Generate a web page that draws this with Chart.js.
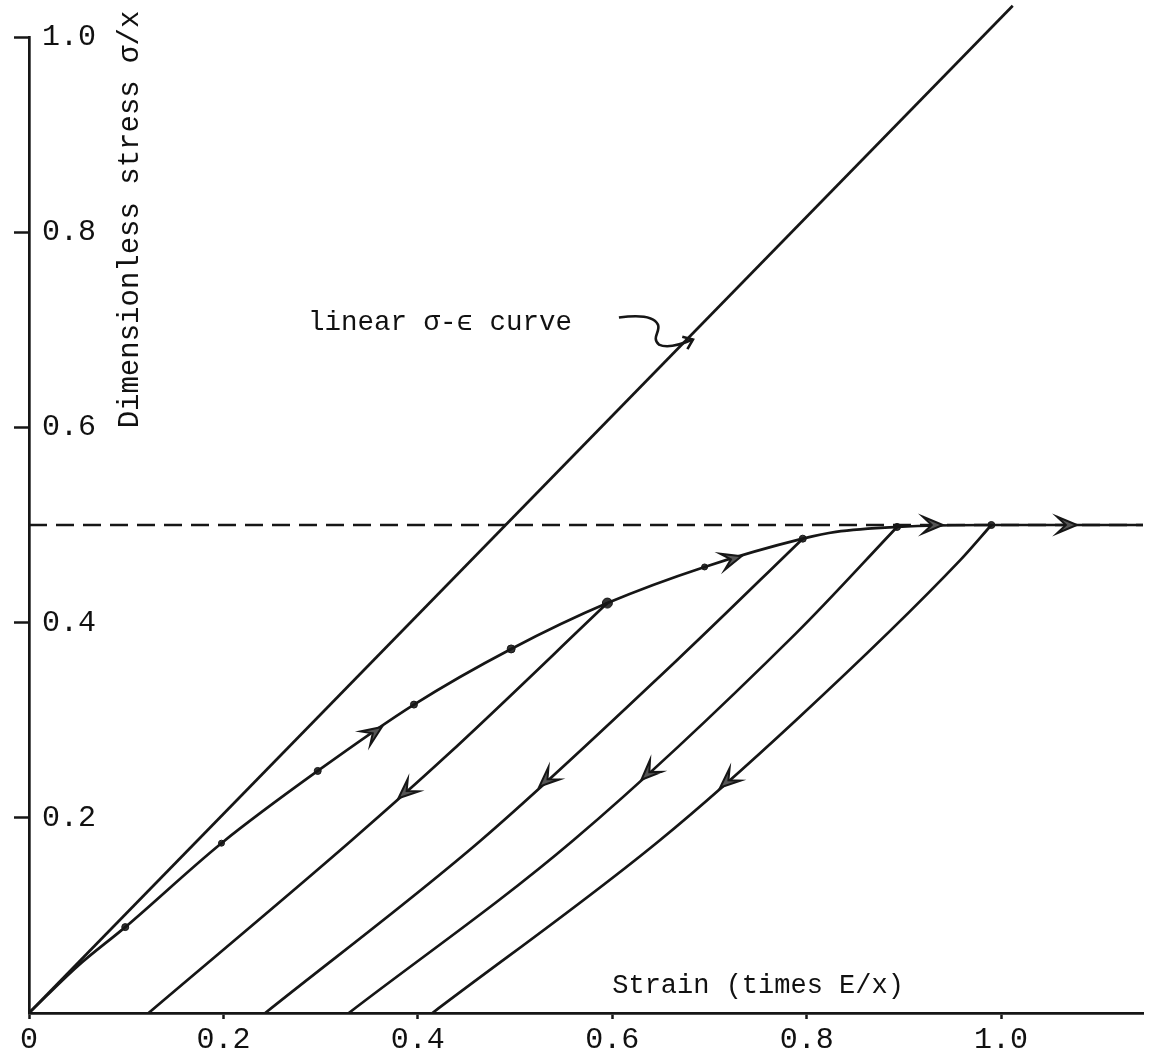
<!DOCTYPE html>
<html lang="en">
<head>
    <meta charset="UTF-8">
    <meta name="viewport" content="width=device-width, initial-scale=1.0">
    <title>Dimensionless stress-strain</title>
    <script src="https://cdn.jsdelivr.net/npm/chart.js"></script>
    <style>
        html, body { margin: 0; padding: 0; background: #fff; }
        #wrap { width: 1149px; height: 1057px; }
    </style>
</head>
<body>
    <div id="wrap"><canvas id="stressChart"></canvas></div>

    <script>
        // tick labels
        const xTicks = [0, 0.2, 0.4, 0.6, 0.8, 1.0];
        const yTicks = [0.2, 0.4, 0.6, 0.8, 1.0];

        // linear sigma-epsilon line
        const linearX = [0, 1.012];
        const linearY = [0, 1.032];

        // dashed limit at 0.5
        const limitX = [0, 1.146];
        const limitY = [0.5, 0.5];

        // loading curve
        const loadX = [0, 0.05, 0.099, 0.198, 0.297, 0.396, 0.496, 0.595, 0.695, 0.796, 0.83, 0.893, 0.99, 1.146];
        const loadY = [0, 0.048, 0.088, 0.174, 0.248, 0.316, 0.373, 0.420, 0.457, 0.486, 0.493, 0.498, 0.5, 0.5];

        // plotted points on the loading curve
        const dotX = [0.099, 0.198, 0.297, 0.396, 0.496, 0.595, 0.695, 0.796, 0.893, 0.99];
        const dotY = [0.088, 0.174, 0.248, 0.316, 0.373, 0.420, 0.457, 0.486, 0.498, 0.5];
        const dotSize = [3.5, 3, 3.5, 3.5, 4, 5, 3, 3.5, 3.5, 3.5];

        // unloading curves
        const unload1X = [0.123, 0.332, 0.43, 0.595];
        const unload1Y = [0, 0.177, 0.264, 0.420];
        const unload2X = [0.243, 0.465, 0.666, 0.796];
        const unload2Y = [0, 0.177, 0.361, 0.486];
        const unload3X = [0.329, 0.56, 0.789, 0.893];
        const unload3Y = [0, 0.177, 0.389, 0.498];
        const unload4X = [0.415, 0.649, 0.789, 0.958, 0.99];
        const unload4Y = [0, 0.177, 0.30, 0.464, 0.5];

        // arrowheads: tip point and a point behind it on the same curve
        const arrowTip  = [[0.363, 0.293], [0.733, 0.468], [0.94, 0.5], [1.078, 0.5],
                           [0.38, 0.220], [0.525, 0.232], [0.63, 0.239], [0.711, 0.231]];
        const arrowFrom = [[0.297, 0.248], [0.695, 0.457], [0.90, 0.5], [1.03, 0.5],
                           [0.43, 0.264], [0.60, 0.300], [0.72, 0.325], [0.79, 0.30]];

        // text placed in data units
        const curveNote = { text: 'linear \u03c3-\u03f5 curve', x: 0.287, y: 0.70, pointX: 0.683, pointY: 0.690 };
        const xTitle = { text: 'Strain (times E/x)', x: 0.6, y: 0.021 };
        const yTitle = { text: 'Dimensionless stress \u03c3/x', x: 0.104, y: 0.813 };

        const ink = '#161616';
        const mono = "'Liberation Mono', 'DejaVu Sans Mono', monospace";

        const pts = (xs, ys) => xs.map((x, i) => ({ x: x, y: ys[i] }));

        const lineSet = (xs, ys, extra) => Object.assign({
            data: pts(xs, ys),
            showLine: true,
            borderColor: ink,
            borderWidth: 2.7,
            pointRadius: 0,
            fill: false
        }, extra || {});

        const drawHead = (ctx, tx, ty, ang, len, spread) => {
            ctx.save();
            ctx.translate(tx, ty);
            ctx.rotate(ang);
            ctx.beginPath();
            ctx.moveTo(0, 0);
            ctx.lineTo(-len, -len * spread);
            ctx.lineTo(-len * 0.55, 0);
            ctx.lineTo(-len, len * spread);
            ctx.closePath();
            ctx.fillStyle = '#555';
            ctx.fill();
            ctx.lineWidth = 2;
            ctx.strokeStyle = ink;
            ctx.stroke();
            ctx.restore();
        };

        const decorPlugin = {
            id: 'decor',
            afterDatasetsDraw(chart) {
                const ctx = chart.ctx;
                const sx = chart.scales.x, sy = chart.scales.y;
                const px = v => sx.getPixelForValue(v);
                const py = v => sy.getPixelForValue(v);

                // arrowheads
                arrowTip.forEach((t, i) => {
                    const f = arrowFrom[i];
                    const ang = Math.atan2(py(t[1]) - py(f[1]), px(t[0]) - px(f[0]));
                    drawHead(ctx, px(t[0]), py(t[1]), ang, 20, 0.42);
                });

                ctx.save();
                ctx.fillStyle = '#111';
                ctx.textBaseline = 'alphabetic';

                // note with squiggly pointer
                ctx.font = '27.5px ' + mono;
                ctx.textAlign = 'left';
                ctx.fillText(curveNote.text, px(curveNote.x), py(curveNote.y));

                const ax = px(curveNote.pointX), ay = py(curveNote.pointY);
                ctx.beginPath();
                ctx.moveTo(ax - 74, ay - 22);
                ctx.bezierCurveTo(ax - 60, ay - 24, ax - 40, ay - 25, ax - 35, ay - 15);
                ctx.bezierCurveTo(ax - 32, ay - 8, ax - 42, ay - 2, ax - 34, ay + 5);
                ctx.bezierCurveTo(ax - 26, ay + 9, ax - 12, ay + 5, ax, ay);
                ctx.lineWidth = 2.6;
                ctx.strokeStyle = ink;
                ctx.stroke();
                const a = Math.atan2(-5, 12);
                ctx.beginPath();
                ctx.moveTo(ax - 11 * Math.cos(a - 0.65), ay - 11 * Math.sin(a - 0.65));
                ctx.lineTo(ax, ay);
                ctx.lineTo(ax - 11 * Math.cos(a + 0.65), ay - 11 * Math.sin(a + 0.65));
                ctx.stroke();

                // axis titles inside the frame
                ctx.font = '27px ' + mono;
                ctx.fillText(xTitle.text, px(xTitle.x), py(xTitle.y));

                ctx.translate(px(yTitle.x), py(yTitle.y));
                ctx.rotate(-Math.PI / 2);
                ctx.font = '29px ' + mono;
                ctx.textAlign = 'center';
                ctx.textBaseline = 'middle';
                ctx.fillText(yTitle.text, 0, 0);
                ctx.restore();
            }
        };

        const smooth = { tension: 0.4, cubicInterpolationMode: 'monotone' };

        const ctx = document.getElementById('stressChart').getContext('2d');
        const chart = new Chart(ctx, {
            type: 'scatter',
            data: {
                datasets: [
                    lineSet(limitX, limitY, { borderDash: [18, 9], borderWidth: 2.5 }),
                    lineSet(linearX, linearY, { clip: false }),
                    lineSet(loadX, loadY, smooth),
                    lineSet(unload1X, unload1Y, smooth),
                    lineSet(unload2X, unload2Y, smooth),
                    lineSet(unload3X, unload3Y, smooth),
                    lineSet(unload4X, unload4Y, smooth),
                    {
                        data: pts(dotX, dotY),
                        showLine: false,
                        pointRadius: dotSize,
                        pointBackgroundColor: '#333',
                        pointBorderColor: ink,
                        pointBorderWidth: 1
                    }
                ]
            },
            options: {
                responsive: true,
                maintainAspectRatio: false,
                animation: false,
                layout: { padding: { top: 37, right: 0, left: 0, bottom: 0 } },
                plugins: {
                    legend: { display: false },
                    tooltip: { enabled: false }
                },
                scales: {
                    x: {
                        type: 'linear',
                        min: 0,
                        max: 1.146,
                        afterBuildTicks: s => { s.ticks = xTicks.map(v => ({ value: v })); },
                        afterFit: s => { s.height = 44; },
                        border: { display: true, color: ink, width: 2.7 },
                        grid: { drawOnChartArea: false, drawTicks: true, tickLength: 6, tickColor: ink, tickWidth: 2.5 },
                        ticks: {
                            autoSkip: false,
                            maxRotation: 0,
                            padding: 3,
                            color: '#111',
                            font: { family: mono, size: 30 },
                            callback: v => v === 0 ? '0' : v.toFixed(1)
                        }
                    },
                    y: {
                        type: 'linear',
                        min: 0,
                        max: 1.0,
                        afterBuildTicks: s => { s.ticks = yTicks.map(v => ({ value: v })); },
                        afterFit: s => { s.width = 29; },
                        border: { display: true, color: ink, width: 2.7 },
                        grid: { drawOnChartArea: false, drawTicks: true, tickLength: 15, tickColor: ink, tickWidth: 2.5 },
                        ticks: {
                            mirror: true,
                            padding: 13,
                            color: '#111',
                            font: { family: mono, size: 30 },
                            callback: v => v.toFixed(1)
                        }
                    }
                }
            },
            plugins: [decorPlugin]
        });
    </script>
</body>
</html>
